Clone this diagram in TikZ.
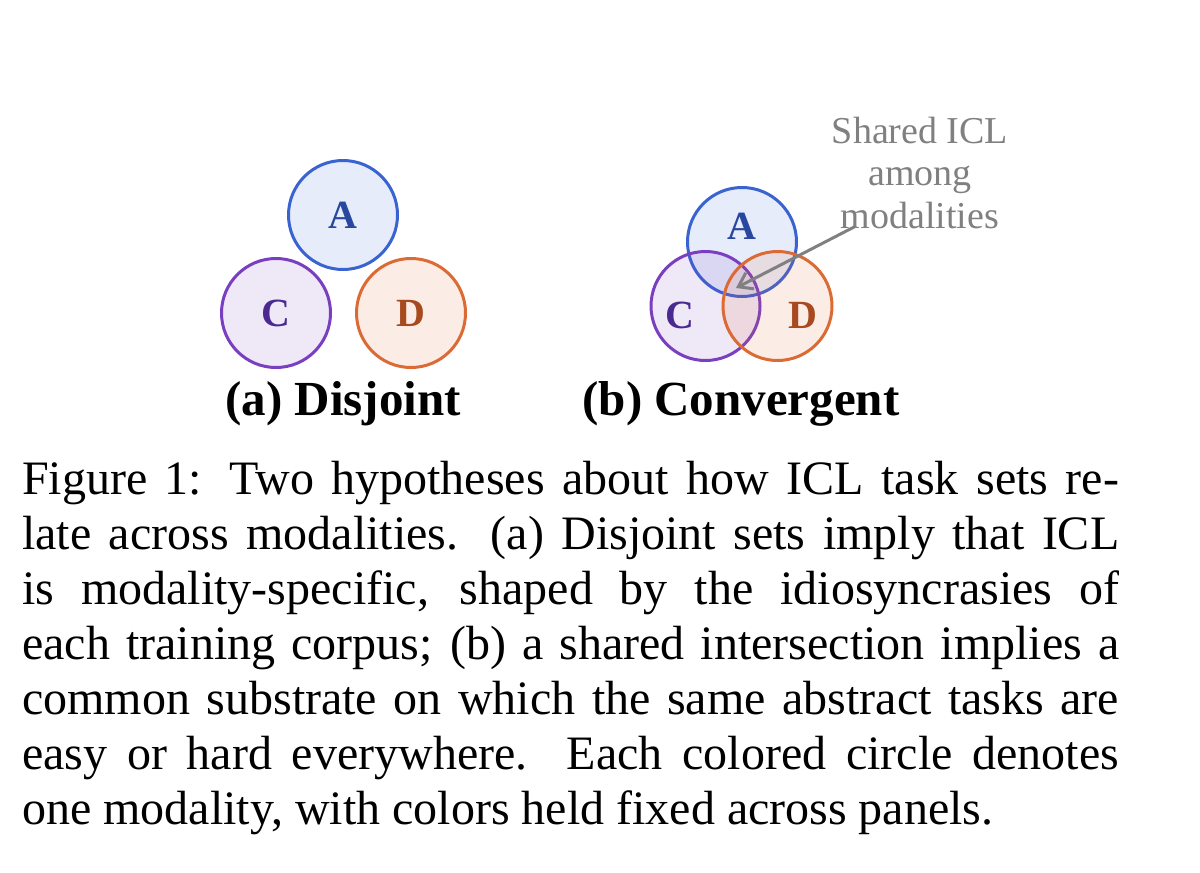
\documentclass[tikz,border=0pt]{standalone}
\usepackage{fontspec}
\setmainfont{Liberation Serif}
\usetikzlibrary{arrows.meta}
\definecolor{Astroke}{RGB}{58,99,210}
\definecolor{Cstroke}{RGB}{122,63,192}
\definecolor{Dstroke}{RGB}{220,106,52}
\definecolor{Atext}{RGB}{40,72,160}
\definecolor{Ctext}{RGB}{74,42,144}
\definecolor{Dtext}{RGB}{168,74,31}
\definecolor{annot}{RGB}{128,128,128}
\newcommand{\capfont}{\fontsize{48}{55}\selectfont}
\begin{document}
\begin{tikzpicture}[x=1pt,y=-1pt,
  venn/.style={circle, line width=3pt, minimum size=109pt, inner sep=0pt, fill opacity=0.12, draw opacity=1},
  lett/.style={inner sep=0pt, font=\fontsize{40}{44}\selectfont\bfseries},
  panel/.style={anchor=base, inner sep=0pt, font=\fontsize{49}{56}\selectfont\bfseries},
  capline/.style={anchor=base west, inner sep=0pt, font=\capfont},
  annotxt/.style={anchor=base, inner sep=0pt, text=annot, font=\fontsize{38}{42}\selectfont},
  annoarrow/.style={draw=annot, line width=3pt, -{Straight Barb[length=13pt,width=18pt,line width=3pt]}}
]
\useasboundingbox (0,0) rectangle (1200,873);

% panel (a)
\node[venn, draw=Astroke, fill=Astroke] (aA) at (343,215) {};
\node[venn, draw=Cstroke, fill=Cstroke] (aC) at (276,313) {};
\node[venn, draw=Dstroke, fill=Dstroke] (aD) at (411,313) {};
\node[lett, text=Atext] (aAl) at (aA.center) {A};
\node[lett, text=Ctext] (aCl) at (aC.center) {C};
\node[lett, text=Dtext] (aDl) at (aD.center) {D};
\node[panel] (pa) at (343,415) {(a) Disjoint};

% panel (b)
\node[venn, draw=Astroke, fill=Astroke] (bA) at (742,242) {};
\node[venn, draw=Cstroke, fill=Cstroke] (bC) at (705.5,306) {};
\node[venn, draw=Dstroke, fill=Dstroke] (bD) at (777.5,306) {};
\node[lett, text=Atext] (bAl) at (742,226) {A};
\node[lett, text=Ctext] (bCl) at (680,315) {C};
\node[lett, text=Dtext] (bDl) at (803,315) {D};
\node[panel] (pb) at (741,415) {(b) Convergent};

% annotation
\node[annotxt] (sh1) at (920,143) {Shared ICL};
\node[annotxt] (sh2) at (920,185.5) {among};
\node[annotxt] (sh3) at (920,228) {modalities};
\coordinate (arrS) at (856,226);
\coordinate (arrT) at (736,288);
\draw[annoarrow] (arrS) -- (arrT);

% caption
\node[capline] (c1) at (22,494) {\makebox[1097pt][s]{Figure 1: Two hypotheses about how ICL task sets re-}};
\node[capline] (c2) at (22,549) {\makebox[1097pt][s]{late across modalities. (a) Disjoint sets imply that ICL}};
\node[capline] (c3) at (22,604) {\makebox[1097pt][s]{is modality-specific, shaped by the idiosyncrasies of}};
\node[capline] (c4) at (22,659) {\makebox[1097pt][s]{each training corpus; (b) a shared intersection implies a}};
\node[capline] (c5) at (22,714) {\makebox[1097pt][s]{common substrate on which the same abstract tasks are}};
\node[capline] (c6) at (22,769) {\makebox[1097pt][s]{easy or hard everywhere. Each colored circle denotes}};
\node[capline] (c7) at (22,824) {one modality, with colors held fixed across panels.};
\end{tikzpicture}
\end{document}
